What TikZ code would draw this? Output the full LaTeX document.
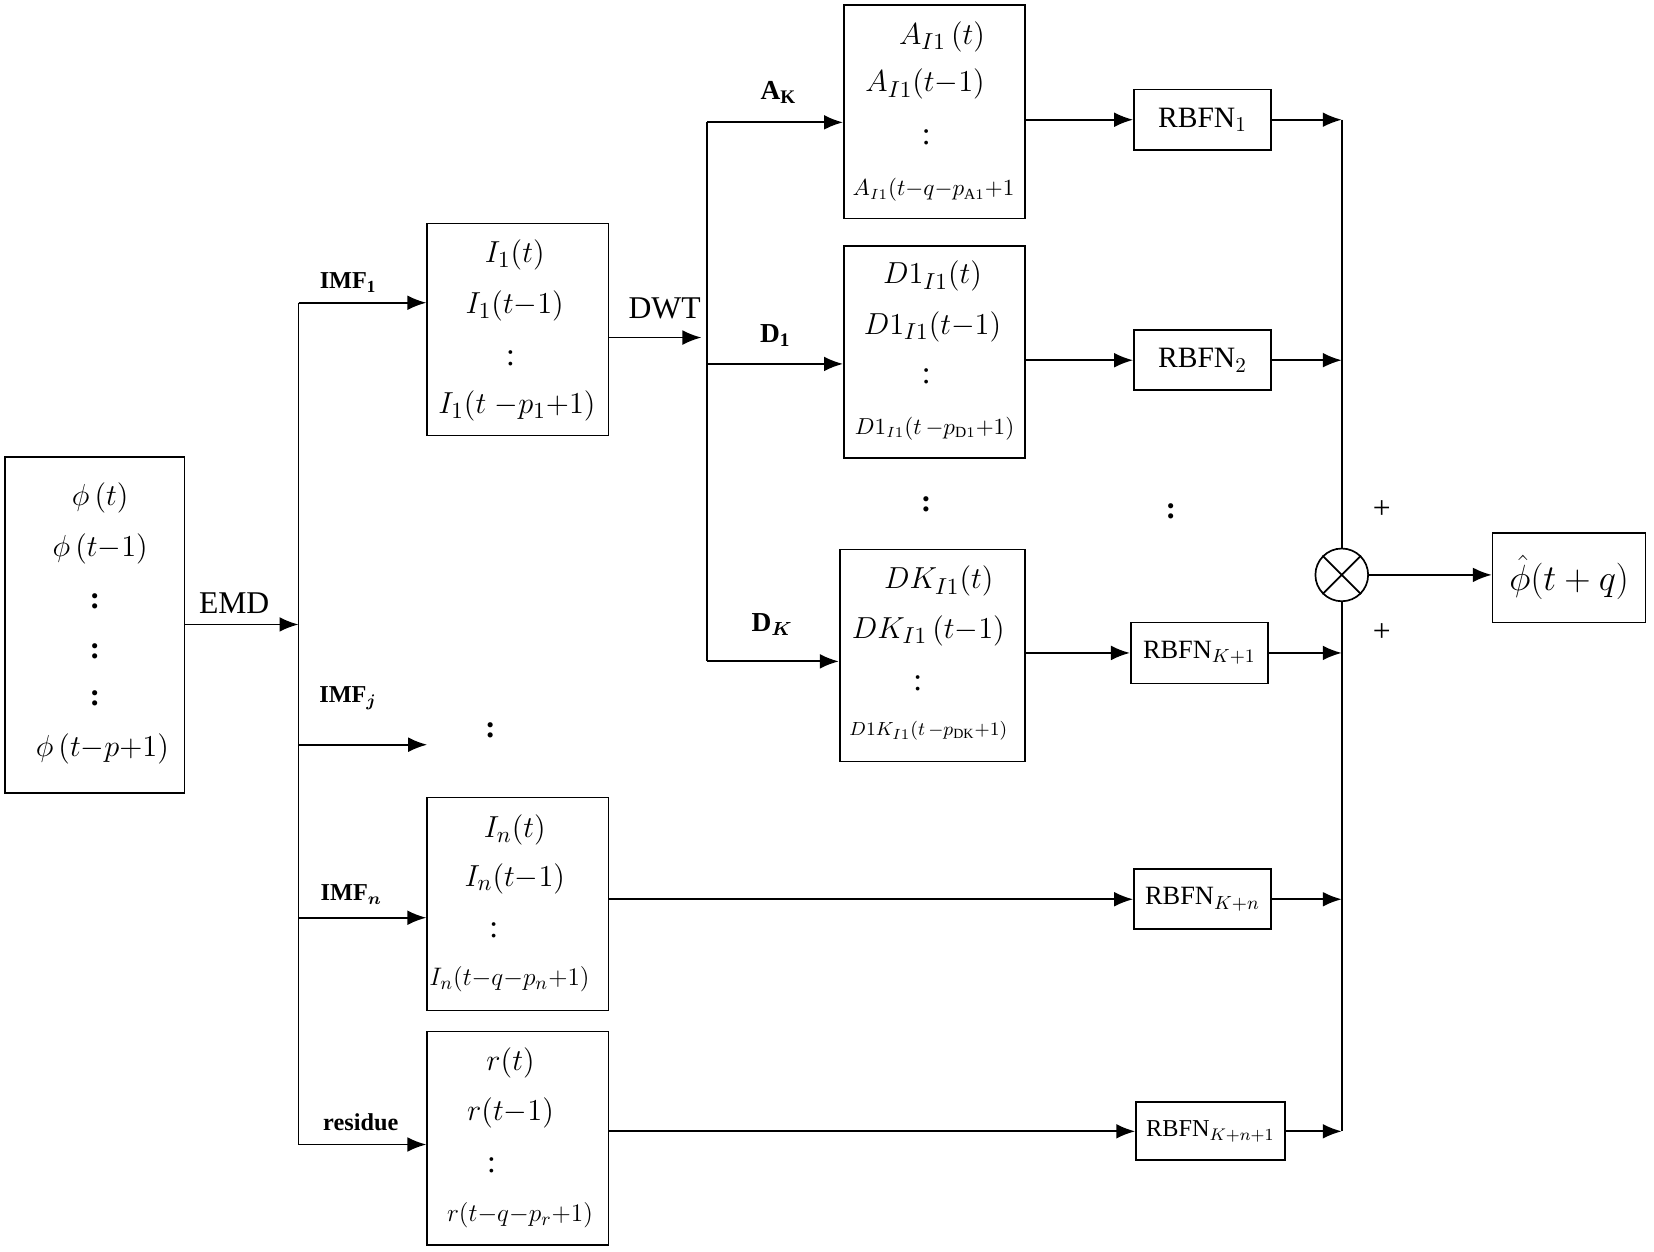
\documentclass[tikz,border=0pt]{standalone}
\usepackage{amsmath,amssymb,bm}
\usepackage{fontspec}
\setmainfont{Liberation Serif}
\usetikzlibrary{arrows.meta}
\begin{document}
\begin{tikzpicture}[x=0.5pt,y=-0.5pt,
  box/.style={draw,line width=0.8pt,inner sep=0pt},
  t/.style={font=\fontsize{15}{18}\selectfont,inner sep=0pt},
  s/.style={font=\fontsize{10.5}{12}\selectfont,inner sep=0pt},
  lb/.style={font=\fontsize{11.5}{13}\selectfont\bfseries,inner sep=0pt},
  ar/.style={-{Latex[length=9pt,width=7pt]},line width=0.9pt},
  ln/.style={line width=0.9pt},
  rb/.style={draw,line width=0.8pt,font=\fontsize{14}{16}\selectfont,inner sep=0pt}]
\useasboundingbox (0,0) rectangle (1568,1186);
% input box
\node[box,minimum width=85pt,minimum height=159.5pt] (in) at (90,592.5) {};
\node[t] at (95,472) {$\phi\,(t)$};
\node[t] at (95,520) {$\phi\,(t{-}1)$};
\node[t] at (90,570) {\textbf{:}};
\node[t] at (90,617) {\textbf{:}};
\node[t] at (90,662) {\textbf{:}};
\node[t] at (97,710) {$\phi\,(t{-}p{+}1)$};
\coordinate (bus) at (283,592);
\draw[ar] (in.east|-bus) -- (bus);
\node[t] at (222,572) {EMD};
\coordinate (b1) at (283,287);
\coordinate (b2) at (283,1085);
\draw[ln] (b1) -- (b2);
% branch boxes
\node[box,minimum width=86pt,minimum height=100.5pt] (I1) at (491,312.5) {};
\node[box,minimum width=86pt,minimum height=101pt] (In) at (491,857) {};
\node[box,minimum width=86pt,minimum height=101pt] (R) at (491,1079) {};
\draw[ar] (b1) -- (I1.west|-b1);
\coordinate (bj) at (283,706);
\coordinate (ej) at (405,706);
\draw[ar] (bj) -- (ej);
\coordinate (bn) at (283,870);
\draw[ar] (bn) -- (In.west|-bn);
\draw[ar] (b2) -- (R.west|-b2);
\node[lb] at (330,268) {IMF$_{\mathbf 1}$};
\node[lb] at (330,662) {IMF$_{\bm j}$};
\node[lb] at (333,848) {IMF$_{\bm n}$};
\node[lb] at (342,1064) {residue};
\node[t] at (465,692) {\textbf{:}};
% I1 texts
\node[t] at (488,242) {$I_1(t)$};
\node[t] at (488,290) {$I_1(t{-}1)$};
\node[t] at (484,340) {:};
\node[t] at (490,385) {$I_1(t\;{-}p_1{+}1)$};
\node[t] at (488,787) {$I_n(t)$};
\node[t] at (488,833) {$I_n(t{-}1)$};
\node[t] at (468,882) {:};
\node[t,font=\fontsize{13}{15}\selectfont] at (483,928) {$I_n(t{-}q{-}p_n{+}1)$};
\node[t] at (484,1008) {$r(t)$};
\node[t] at (484,1055) {$r(t{-}1)$};
\node[t] at (466,1105) {:};
\node[t,font=\fontsize{13}{15}\selectfont] at (493,1152) {$r(t{-}q{-}p_r{+}1)$};
% DWT
\coordinate (dw) at (665,320);
\draw[ar] (I1.east|-dw) -- (dw);
\node[t] at (630,292) {DWT};
\coordinate (d1) at (670,116);
\coordinate (d2) at (670,627);
\draw[ln] (d1) -- (d2);
\node[box,minimum width=86pt,minimum height=101pt] (A) at (886,106) {};
\node[box,minimum width=86pt,minimum height=100.5pt] (D1) at (886,333.5) {};
\node[box,minimum width=88pt,minimum height=100.5pt] (DK) at (884,621.5) {};
\coordinate (dm) at (670,345);
\draw[ar] (d1) -- (A.west|-d1);
\draw[ar] (dm) -- (D1.west|-dm);
\draw[ar] (d2) -- (DK.west|-d2);
\node[lb,font=\fontsize{13}{15}\selectfont\bfseries] at (738,88) {A$_{\mathbf K}$};
\node[lb,font=\fontsize{13}{15}\selectfont\bfseries] at (735,318) {D$_{\mathbf 1}$};
\node[lb,font=\fontsize{13}{15}\selectfont\bfseries] at (732,592) {D$_{\bm K}$};
\node[t] at (893,35) {$A_{I1}\,(t)$};
\node[t] at (877,80) {$A_{I1}(t{-}1)$};
\node[t] at (878,130) {:};
\node[s] at (885,180) {$A_{I1}(t{-}q{-}p_{\mathrm{A}1}{+}1$};
\node[t] at (884,262) {$D1_{I1}(t)$};
\node[t] at (884,310) {$D1_{I1}(t{-}1)$};
\node[t] at (878,357) {:};
\node[s] at (886,406) {$D1_{I1}(t\,{-}p_{\mathrm{D}1}{+}1)$};
\node[t] at (878,478) {\textbf{:}};
\node[t] at (890,551) {$DK_{I1}(t)$};
\node[t] at (880,598) {$DK_{I1}\,(t{-}1)$};
\node[t] at (870,648) {:};
\node[s,font=\fontsize{9.5}{11}\selectfont] at (880,693) {$D1K_{I1}(t\,{-}p_{\mathrm{DK}}{+}1)$};
% RBFN
\node[rb,minimum width=65pt,minimum height=28.5pt] (R1) at (1140,113.5) {RBFN$_1$};
\node[rb,minimum width=65pt,minimum height=28.5pt] (R2) at (1140,341.5) {RBFN$_2$};
\node[t] at (1110,485) {\textbf{:}};
\node[rb,minimum width=65pt,minimum height=29pt,font=\fontsize{12.5}{15}\selectfont] (R3) at (1137,619) {RBFN$_{K+1}$};
\node[rb,minimum width=65pt,minimum height=28.5pt,font=\fontsize{12.5}{15}\selectfont] (R4) at (1140,852.5) {RBFN$_{K+n}$};
\node[rb,minimum width=70.5pt,minimum height=27.5pt,font=\fontsize{11.5}{14}\selectfont] (R5) at (1147.5,1072.5) {RBFN$_{K+n+1}$};
\draw[ar] (A.east|-R1) -- (R1);
\draw[ar] (D1.east|-R2) -- (R2);
\draw[ar] (DK.east|-R3) -- (R3);
\draw[ar] (In.east|-R4) -- (R4);
\draw[ar] (R.east|-R5) -- (R5);
% sum
\node[draw,circle,minimum size=25pt,inner sep=0pt,line width=0.8pt] (S) at (1272,545) {};
\draw[line width=0.8pt] (S.north west) -- (S.south east) (S.north east) -- (S.south west);
\coordinate (c1) at (1272,113.5);
\coordinate (c5) at (1272,1072.5);
\draw[ln] (c1) -- (S.north);
\draw[ln] (S.south) -- (c5);
\draw[ar] (R1) -- (c1);
\draw[ar] (R2) -- (S.north|-R2);
\draw[ar] (R3) -- (S.north|-R3);
\draw[ar] (R4) -- (S.north|-R4);
\draw[ar] (R5) -- (c5);
\node[t] at (1310,483) {+};
\node[t] at (1310,600) {+};
\node[box,minimum width=72.5pt,minimum height=42.5pt,font=\fontsize{16}{18}\selectfont] (O) at (1487.5,547.5) {$\hat{\phi}(t+q)$};
\draw[ar] (S.east) -- (O.west|-S.east);
\end{tikzpicture}
\end{document}
